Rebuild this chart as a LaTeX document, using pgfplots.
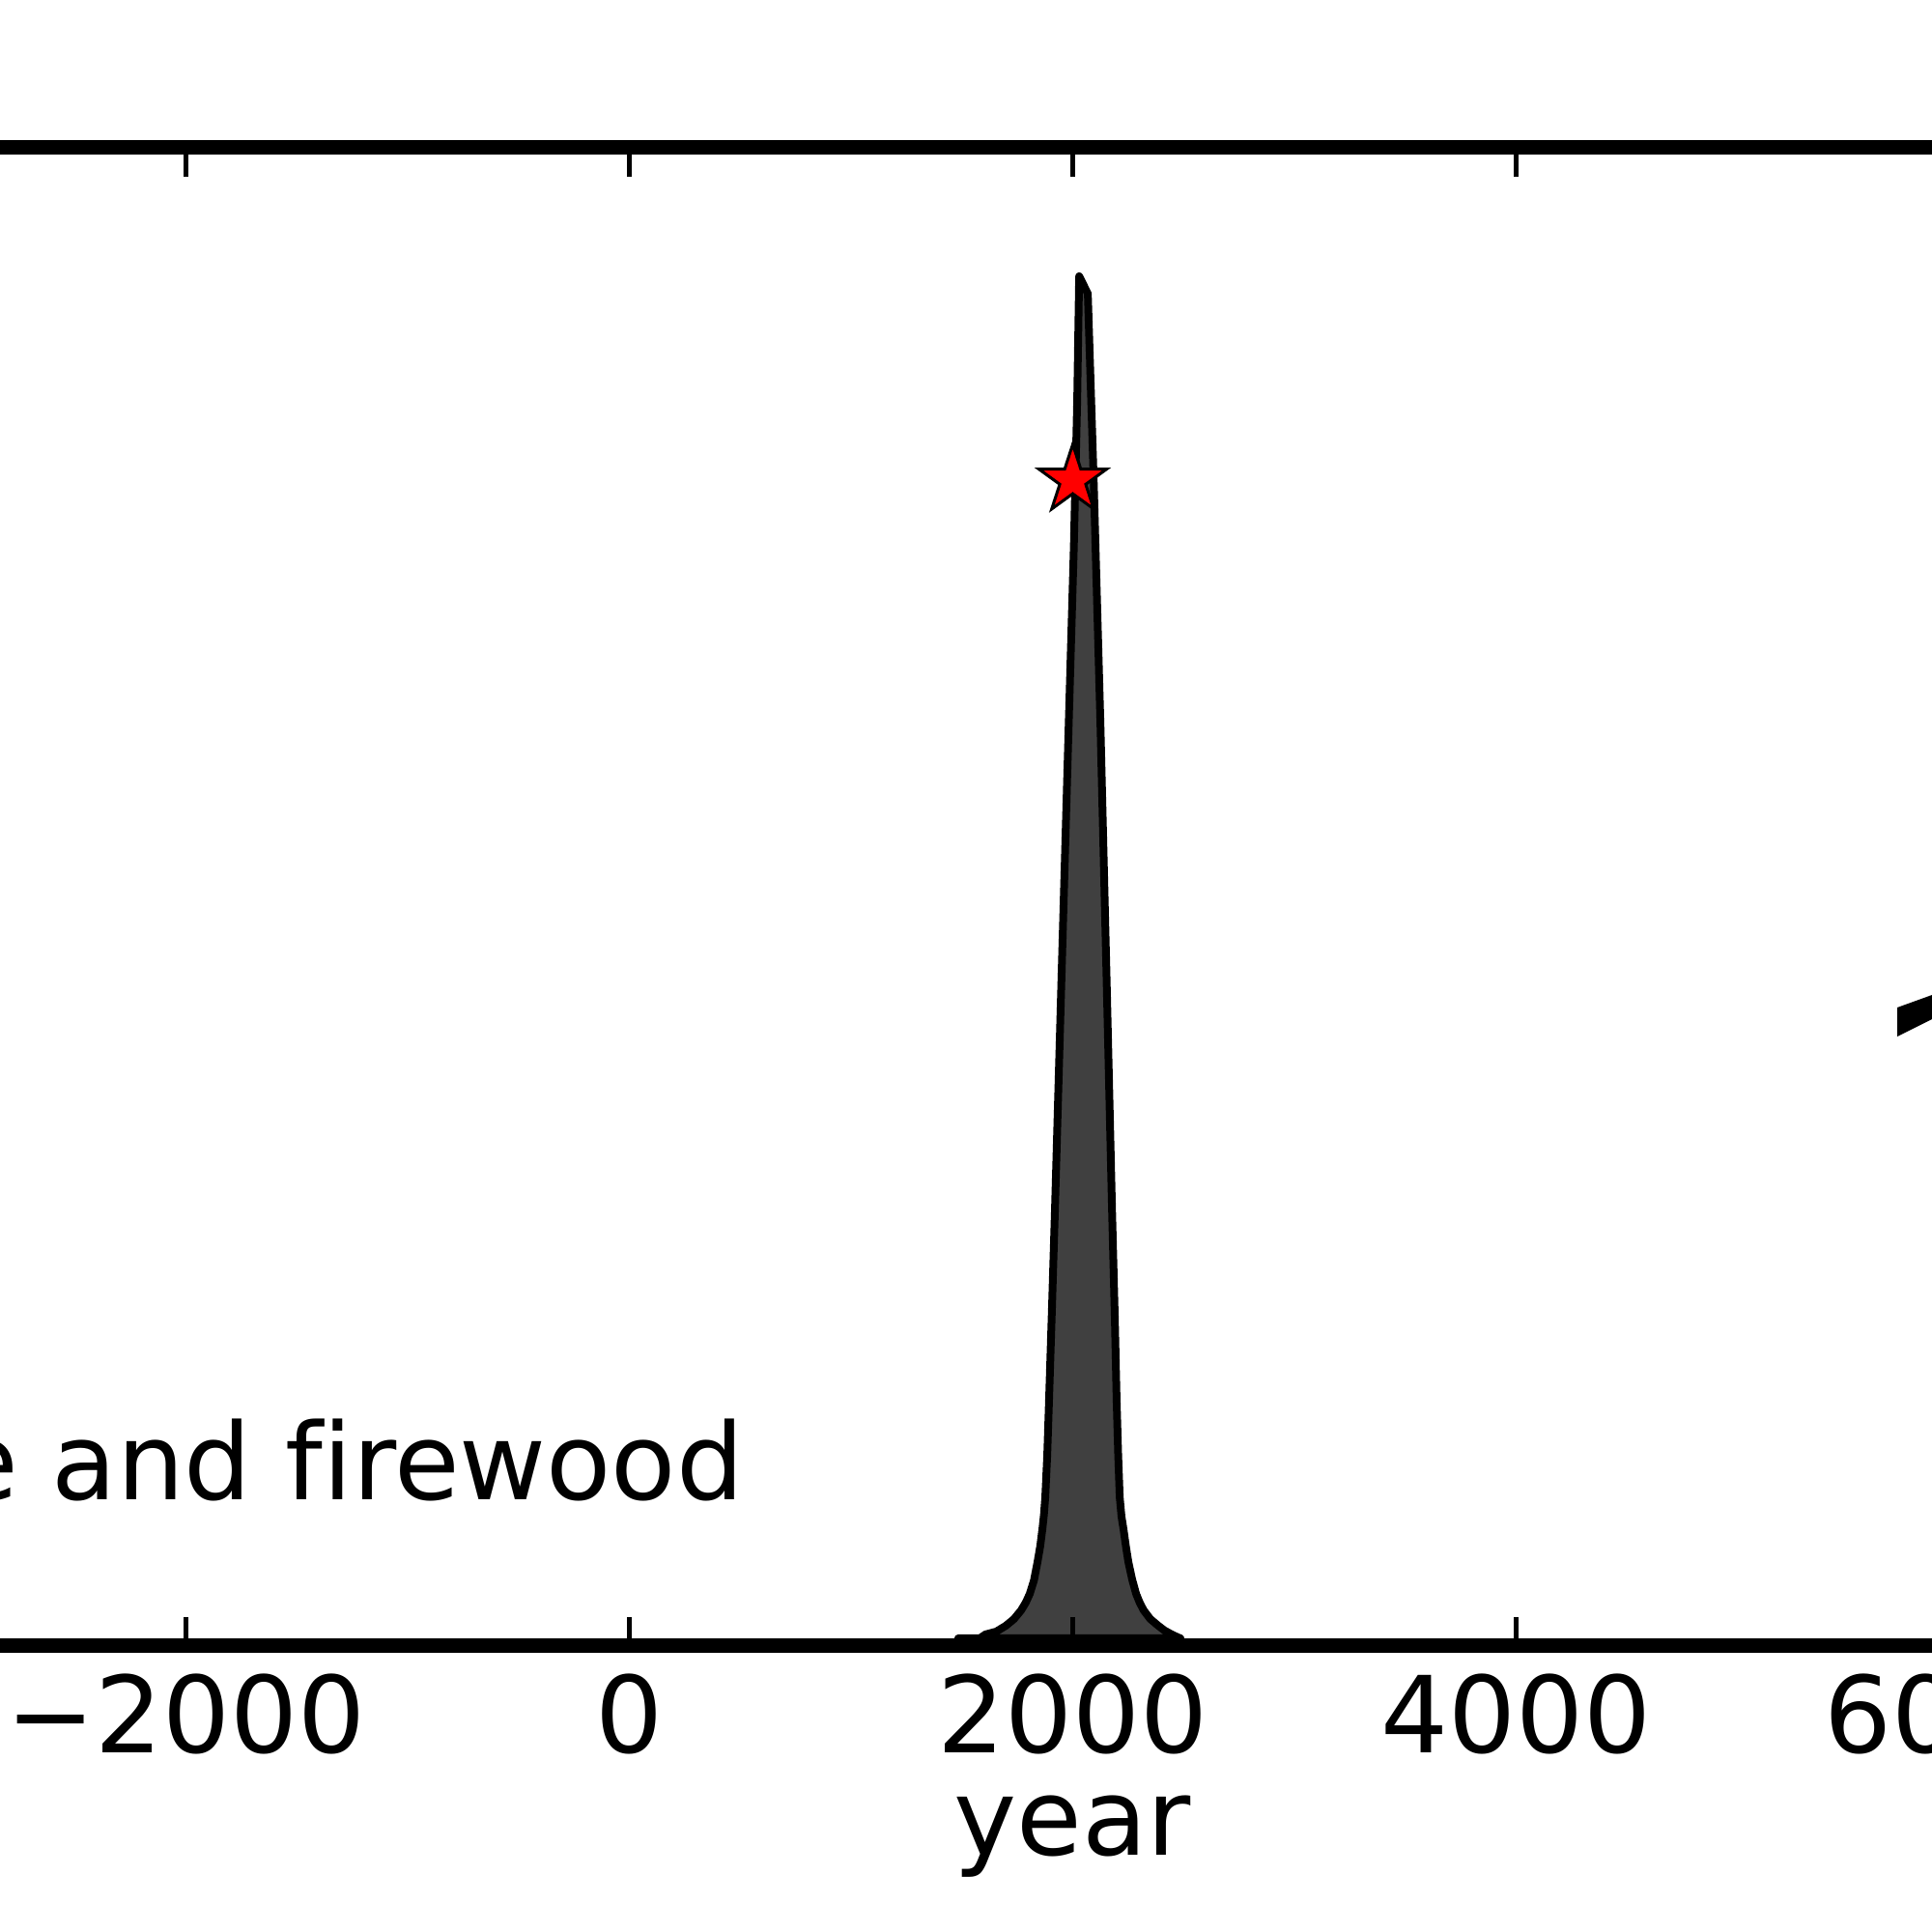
\documentclass[border=0pt]{standalone}
\usepackage{fontspec}
\setmainfont[Ligatures=NoCommon]{DejaVu Sans}
\usepackage{pgfplots}
\pgfplotsset{compat=1.18}
\definecolor{fillgray}{RGB}{64,64,64}
\pgfdeclareplotmark{fstar}{%
  \pgfpathmoveto{\pgfqpointpolar{90}{\pgfplotmarksize}}%
  \pgfpathlineto{\pgfqpointpolar{126}{0.382\pgfplotmarksize}}%
  \pgfpathlineto{\pgfqpointpolar{162}{\pgfplotmarksize}}%
  \pgfpathlineto{\pgfqpointpolar{198}{0.382\pgfplotmarksize}}%
  \pgfpathlineto{\pgfqpointpolar{234}{\pgfplotmarksize}}%
  \pgfpathlineto{\pgfqpointpolar{270}{0.382\pgfplotmarksize}}%
  \pgfpathlineto{\pgfqpointpolar{306}{\pgfplotmarksize}}%
  \pgfpathlineto{\pgfqpointpolar{342}{0.382\pgfplotmarksize}}%
  \pgfpathlineto{\pgfqpointpolar{18}{\pgfplotmarksize}}%
  \pgfpathlineto{\pgfqpointpolar{54}{0.382\pgfplotmarksize}}%
  \pgfpathclose
  \pgfusepathqfillstroke
}
\begin{document}
\begin{tikzpicture}
\path[use as bounding box] (0,0) rectangle (200pt,200pt);
\begin{scope}
\clip (0,0) rectangle (200pt,200pt);
\begin{pgfinterruptboundingbox}
\begin{axis}[
  at={(-3.675pt,29.6pt)}, anchor=south west,
  width=229.45pt, height=155.1pt, scale only axis,
  xmin=-3000, xmax=7000, ymin=-8, ymax=1543,
  xtick={-2000,0,2000,4000,6000},
  xticklabels={−2000,0,2000,4000,6000},
  ytick=\empty,
  tick align=inside, major tick length=3pt,
  axis line style={line width=1.5pt},
  every tick/.style={black, line width=0.5pt},
  axis on top,
  font=\fontsize{11pt}{13pt}\selectfont,
  xlabel={year},
  xlabel style={at={(axis description cs:0.5,0)}, anchor=base, yshift=-21.7pt, inner sep=0pt},
  xticklabel style={anchor=north, inner sep=0pt, yshift=-2.7pt},
]
\addplot[draw=black, fill=fillgray, line width=0.8pt, line join=round] coordinates {
 (1483,0) (1580,0) (1606,4) (1655,7) (1698,13) (1735,20) (1767,29) (1788,37)
 (1806,46) (1825,60) (1841,79) (1853,95) (1863,113) (1870,128) (1876,146)
 (1885,190) (1893,246) (1906,340) (1920,446) (1950,690) (1981,940)
 (2005,1130) (2020,1280) (2029,1410)
 (2068,1392) (2094,1203) (2125,946) (2152,690) (2177,446) (2190,330)
 (2198,246) (2205,190) (2212,146) (2220,126) (2229,113) (2240,95) (2251,79)
 (2268,61) (2286,46) (2302,37) (2320,29) (2350,20) (2386,13) (2415,8)
 (2447,4) (2470,1.5) (2486,0)
} -- cycle;
\addplot[only marks, mark=fstar, mark size=3.7pt, mark options={fill=red, draw=black, line width=0.3pt}] coordinates {(2000,1199)};
\end{axis}
\node[anchor=base east, inner sep=0pt, font=\fontsize{11pt}{13pt}\selectfont] at (77.2pt,44.7pt) {e and firewood};
\fill (196.4pt,95.7pt) -- (200pt,97.0pt) -- (200pt,94.5pt) -- (196.4pt,92.7pt) -- cycle;
\end{pgfinterruptboundingbox}
\end{scope}
\end{tikzpicture}
\end{document}
